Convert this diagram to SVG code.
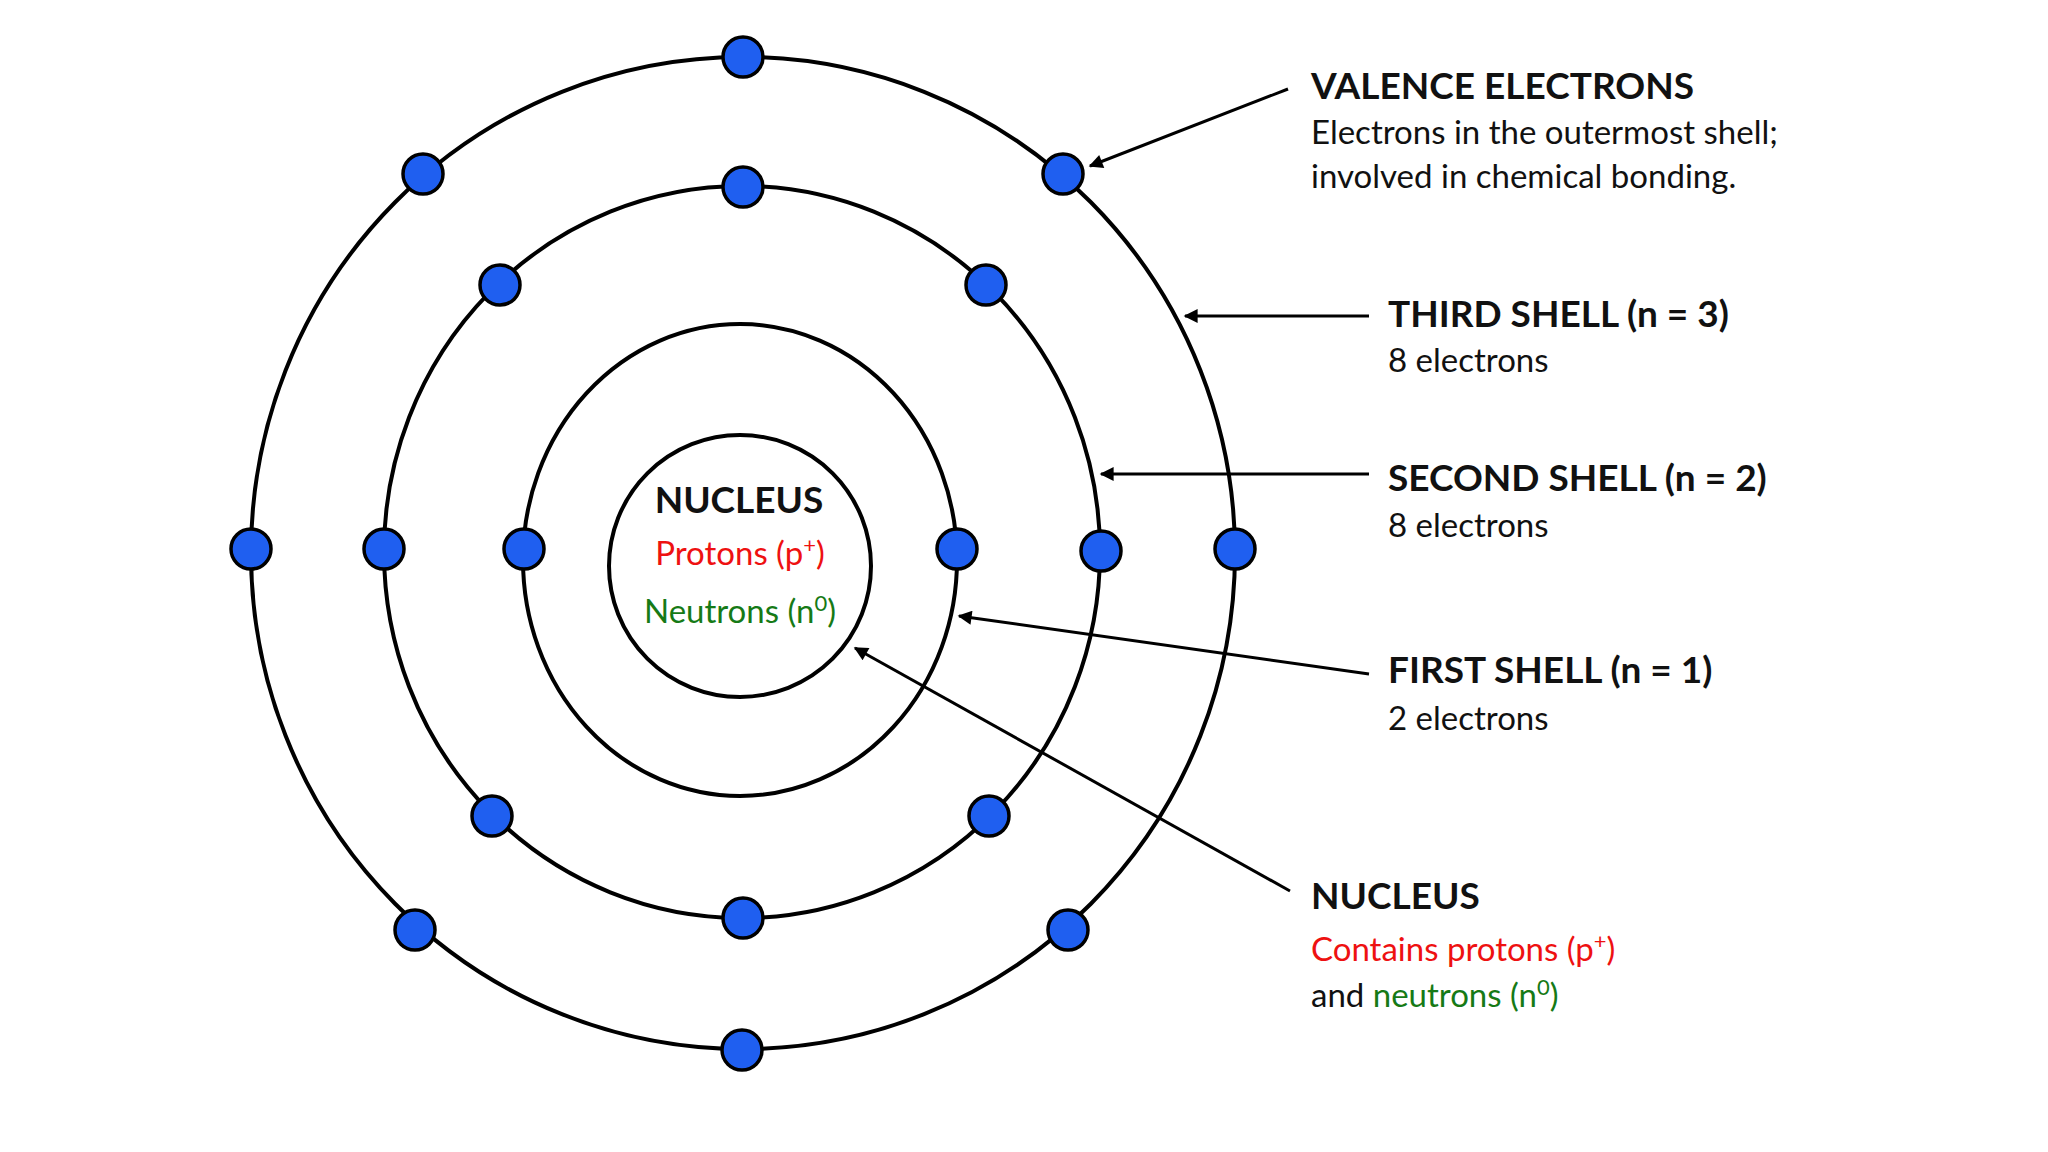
<svg xmlns="http://www.w3.org/2000/svg" width="2048" height="1152" viewBox="0 0 2048 1152">
<defs>
<style>
.orb{fill:none;stroke:#000;stroke-width:4}
.e{fill:#1f5ff0;stroke:#000;stroke-width:3.5}
.con{stroke:#000;stroke-width:3;fill:none;marker-end:url(#ah)}
text{font-family:Lato,"Noto Sans","Liberation Sans",sans-serif;fill:#111}
.h{font-weight:bold;font-size:37px}
.d{font-size:33px}
.red{fill:#ee1111}
.grn{fill:#167a16}
</style>
<marker id="ah" viewBox="0 0 10 10" refX="9" refY="5" markerWidth="20" markerHeight="14" markerUnits="userSpaceOnUse" orient="auto"><path d="M0,0 L10,5 L0,10 z" fill="#000"/></marker>
</defs>
<rect width="2048" height="1152" fill="#fff"/>
<g id="shells">
<ellipse class="orb" cx="743" cy="553" rx="492" ry="496"/>
<ellipse class="orb" cx="742" cy="552" rx="358" ry="366"/>
<ellipse class="orb" cx="740" cy="560" rx="217" ry="236"/>
</g>
<g id="nucleus">
<circle class="orb" cx="740" cy="566" r="131"/>
<text class="h" x="739" y="513" text-anchor="middle" font-size="35">NUCLEUS</text>
<text class="d red" x="740" y="565" text-anchor="middle">Protons (p<tspan font-size="22" dy="-12">+</tspan><tspan dy="12">)</tspan></text>
<text class="d grn" x="740" y="623" text-anchor="middle">Neutrons (n<tspan font-size="22" dy="-12">0</tspan><tspan dy="12">)</tspan></text>
</g>
<g id="electrons">
<circle class="e" cx="743" cy="57" r="20"/><circle class="e" cx="423" cy="174" r="20"/><circle class="e" cx="1063" cy="174" r="20"/><circle class="e" cx="251" cy="549" r="20"/><circle class="e" cx="1235" cy="549" r="20"/><circle class="e" cx="415" cy="930" r="20"/><circle class="e" cx="1068" cy="930" r="20"/><circle class="e" cx="742" cy="1050" r="20"/>
<circle class="e" cx="743" cy="187" r="20"/><circle class="e" cx="500" cy="285" r="20"/><circle class="e" cx="986" cy="285" r="20"/><circle class="e" cx="384" cy="549" r="20"/><circle class="e" cx="1101" cy="551" r="20"/><circle class="e" cx="492" cy="816" r="20"/><circle class="e" cx="989" cy="816" r="20"/><circle class="e" cx="743" cy="918" r="20"/>
<circle class="e" cx="524" cy="549" r="20"/><circle class="e" cx="957" cy="549" r="20"/>
</g>
<g id="connectors">
<line class="con" x1="1288" y1="89" x2="1090" y2="166"/>
<line class="con" x1="1369" y1="316" x2="1185" y2="316"/>
<line class="con" x1="1369" y1="474" x2="1101" y2="474"/>
<line class="con" x1="1369" y1="674" x2="959" y2="616"/>
<line class="con" x1="1290" y1="891" x2="855" y2="648"/>
</g>
<g id="label-valence">
<text class="h" x="1311" y="99">VALENCE ELECTRONS</text>
<text class="d" x="1311" y="144">Electrons in the outermost shell;</text>
<text class="d" x="1311" y="188">involved in chemical bonding.</text>
</g>
<g id="label-third">
<text class="h" x="1388" y="327">THIRD SHELL (n = 3)</text>
<text class="d" x="1388" y="372">8 electrons</text>
</g>
<g id="label-second">
<text class="h" x="1388" y="491">SECOND SHELL (n = 2)</text>
<text class="d" x="1388" y="537">8 electrons</text>
</g>
<g id="label-first">
<text class="h" x="1388" y="683">FIRST SHELL (n = 1)</text>
<text class="d" x="1388" y="730">2 electrons</text>
</g>
<g id="label-nucleus">
<text class="h" x="1311" y="909">NUCLEUS</text>
<text class="d red" x="1311" y="961">Contains protons (p<tspan font-size="22" dy="-12">+</tspan><tspan dy="12">)</tspan></text>
<text class="d" x="1311" y="1007">and <tspan class="grn">neutrons (n<tspan font-size="22" dy="-12">0</tspan><tspan dy="12">)</tspan></tspan></text>
</g>
</svg>
